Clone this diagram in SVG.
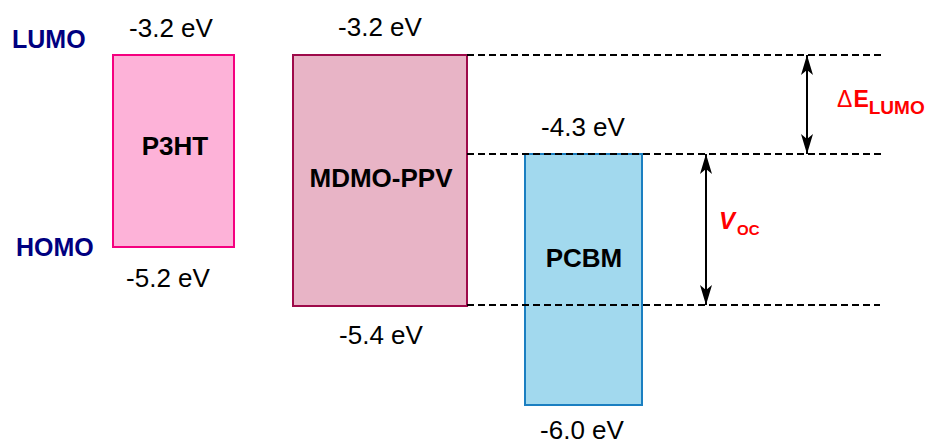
<svg xmlns="http://www.w3.org/2000/svg" width="930" height="445" viewBox="0 0 930 445">
<style>
.t{font-family:"Liberation Sans",Arial,sans-serif;}
.ev{font-size:26px;fill:#000;text-anchor:middle;}
.lvl{font-size:25px;font-weight:bold;fill:#000080;}
.name{font-size:26px;font-weight:bold;fill:#000;text-anchor:middle;}
.red{fill:#ff0000;}
.dash{stroke:#000;stroke-width:1.8;stroke-dasharray:7 4;fill:none;}
.arr{stroke:#000;stroke-width:2;fill:none;marker-start:url(#ah);marker-end:url(#ah);}
</style>
<defs>
<marker id="ah" viewBox="0 0 20 12" markerUnits="userSpaceOnUse" markerWidth="20" markerHeight="12" refX="20" refY="6" orient="auto-start-reverse">
<path d="M20,6 L0,0 L5,6 L0,12 Z" fill="#000"/>
</marker>
</defs>
<rect width="930" height="445" fill="#fff"/>
<g id="labels-levels">
<text class="t lvl" x="12" y="48">LUMO</text>
<text class="t lvl" x="16" y="256" font-size="24">HOMO</text>
</g>
<g id="P3HT">
<rect x="113" y="55" width="121" height="192" fill="#fdb2d8" stroke="#f5007f" stroke-width="2"/>
<text class="t name" x="175" y="155">P3HT</text>
<text class="t ev" x="171" y="37">-3.2 eV</text>
<text class="t ev" x="168" y="287">-5.2 eV</text>
</g>
<g id="MDMO-PPV">
<rect x="293" y="55" width="174" height="251" fill="#e8b4c6" stroke="#9e0a4a" stroke-width="2"/>
<text class="t name" x="381" y="187">MDMO-PPV</text>
<text class="t ev" x="380" y="36">-3.2 eV</text>
<text class="t ev" x="381" y="344">-5.4 eV</text>
</g>
<g id="PCBM">
<rect x="525" y="154" width="117" height="251" fill="#a2d9ee" stroke="#1b7fc1" stroke-width="2"/>
<text class="t name" x="584" y="267">PCBM</text>
<text class="t ev" x="583" y="136">-4.3 eV</text>
<text class="t ev" x="582" y="439">-6.0 eV</text>
</g>
<g id="connectors">
<line class="dash" x1="467" y1="55" x2="882" y2="55"/>
<line class="dash" x1="467" y1="154" x2="882" y2="154"/>
<line class="dash" x1="467" y1="305" x2="880" y2="305"/>
<line class="arr" x1="807" y1="55" x2="807" y2="154"/>
<line class="arr" x1="706" y1="154" x2="706" y2="305"/>
</g>
<g id="annotations">
<text class="t red" x="837" y="107" font-size="23">Δ<tspan font-weight="bold" font-size="23" dx="1">E</tspan><tspan font-weight="bold" font-size="19" y="114" textLength="56" lengthAdjust="spacingAndGlyphs">LUMO</tspan></text>
<text class="t red" x="719" y="229" font-size="24" font-weight="bold" font-style="italic">V<tspan font-style="normal" font-size="15" y="235" dx="2">OC</tspan></text>
</g>
</svg>
